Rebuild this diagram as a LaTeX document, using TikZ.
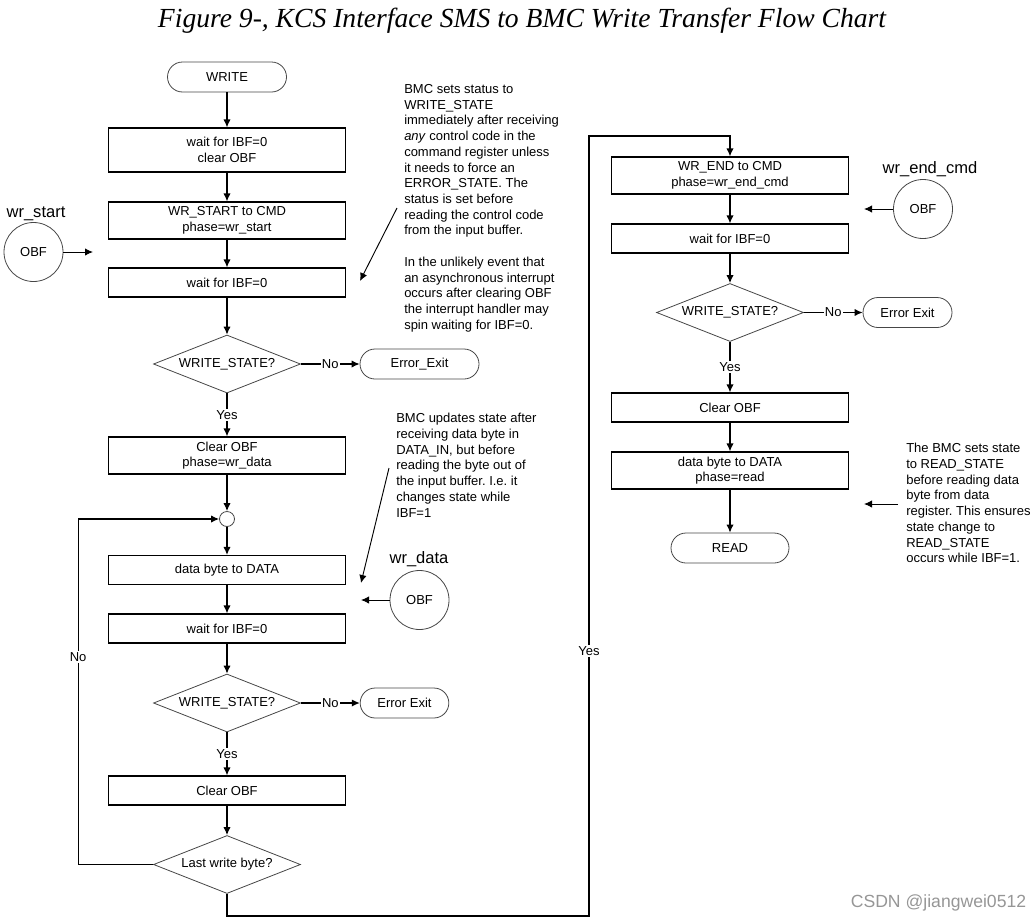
\documentclass[tikz,border=0pt]{standalone}
\usepackage{fontspec}
\setmainfont{Liberation Sans}
\newfontfamily\titlefont{Liberation Serif}
\usetikzlibrary{shapes.geometric,arrows.meta}
\definecolor{edgegray}{RGB}{70,70,70}
\definecolor{markgray}{RGB}{150,150,150}
\frenchspacing

\begin{document}
\begin{tikzpicture}[x=0.75pt,y=-0.75pt,font=\fontsize{9.75}{11.8}\selectfont,box/.style={draw=black,line width=0.9pt,minimum width=177.75pt,inner sep=0pt,align=center},boxS/.style={box,minimum height=21.75pt},boxM/.style={box,minimum height=27.75pt},boxL/.style={box,minimum height=33pt},term/.style={draw=edgegray,line width=0.6pt,rounded corners=11.25pt,minimum height=22.5pt,inner sep=0pt},decide/.style={diamond,aspect=2.53,draw=edgegray,line width=0.6pt,minimum width=110.25pt,minimum height=43.5pt,inner sep=0pt},flag/.style={circle,draw=edgegray,line width=0.6pt,minimum size=44.25pt,inner sep=0pt},flagname/.style={anchor=base,font=\fontsize{12.4}{14}\selectfont},note/.style={anchor=north west,align=left,inner sep=0pt},lbl/.style={fill=white,inner sep=1pt},arr/.style={line width=0.9pt,-{Latex[length=6pt,width=5.5pt]}},arrT/.style={arr,line width=0.7pt}]
\useasboundingbox (0,0) rectangle (1035,921);
\def\xa{227}
\def\xb{730}

\node[anchor=base,font=\titlefont\itshape\fontsize{20.7}{24}\selectfont] (title) at (522,27) {Figure 9-, KCS Interface SMS to BMC Write Transfer Flow Chart};

% left column
\node[term,minimum width=89.25pt] (write) at (\xa,77) {WRITE};
\node[boxL] (waitA) at (\xa,150) {wait for IBF=0\\clear OBF};
\node[boxM] (start) at (\xa,220.5) {WR\_START to CMD\\phase=wr\_start};
\node[boxS] (waitB) at (\xa,282.5) {wait for IBF=0};
\node[decide] (stateA) at (\xa,364) {WRITE\_STATE?};
\node[term,minimum width=89.25pt] (errA) at (419.5,364) {Error\_Exit};
\node[boxM] (clearA) at (\xa,455.5) {Clear OBF\\phase=wr\_data};
\node[circle,draw=edgegray,line width=0.6pt,minimum size=11.25pt,inner sep=0pt] (join) at (\xa,519) {};
\node[boxS] (data) at (\xa,570) {data byte to DATA};
\node[boxS] (waitC) at (\xa,628.5) {wait for IBF=0};
\node[decide] (stateB) at (\xa,703) {WRITE\_STATE?};
\node[term,minimum width=66.5pt] (errB) at (404.5,703) {Error Exit};
\node[boxS] (clearB) at (\xa,790.5) {Clear OBF};
\node[decide] (last) at (\xa,864.5) {Last write byte?};

% right column
\node[boxM] (endcmd) at (\xb,175.5) {WR\_END to CMD\\phase=wr\_end\_cmd};
\node[boxS] (waitD) at (\xb,238.5) {wait for IBF=0};
\node[decide] (stateC) at (\xb,312.5) {WRITE\_STATE?};
\node[term,minimum width=66.75pt] (errC) at (907.5,312.5) {Error Exit};
\node[boxS] (clearC) at (\xb,407.5) {Clear OBF};
\node[boxM] (dataR) at (\xb,470.5) {data byte to DATA\\phase=read};
\node[term,minimum width=88.5pt] (read) at (\xb,548) {READ};

% OBF flags
\node[flag] (obfA) at (33.5,252) {OBF};
\node[flagname] (nameA) at (36,217) {wr\_start};
\node[flag] (obfB) at (419.5,600) {OBF};
\node[flagname] (nameB) at (419,563) {wr\_data};
\node[flag] (obfC) at (923,209) {OBF};
\node[flagname] (nameC) at (930,173) {wr\_end\_cmd};
\coordinate (pA) at (93,252);
\coordinate (pB) at (361,600);
\coordinate (pC) at (864,209);
\draw[arrT] (obfA) -- (pA);
\draw[arrT] (obfB) -- (pB);
\draw[arrT] (obfC) -- (pC);

% notes
\node[note] (noteA) at (404,84) {BMC sets status to\\WRITE\_STATE\\immediately after receiving\\\textit{any} control code in the\\command register unless\\it needs to force an\\ERROR\_STATE. The\\status is set before\\reading the control code\\from the input buffer.\\[11.8pt]In the unlikely event that\\an asynchronous interrupt\\occurs after clearing OBF\\the interrupt handler may\\spin waiting for IBF=0.};
\node[note] (noteB) at (396,413) {BMC updates state after\\receiving data byte in\\DATA\_IN, but before\\reading the byte out of\\the input buffer. I.e. it\\changes state while\\IBF=1};
\node[note] (noteC) at (906,443) {The BMC sets state\\to READ\_STATE\\before reading data\\byte from data\\register. This ensures\\state change to\\READ\_STATE\\occurs while IBF=1.};
\coordinate (nA0) at (397,208);
\coordinate (nA1) at (360,281);
\coordinate (nB0) at (389,468);
\coordinate (nB1) at (361,583);
\coordinate (nC0) at (898,504);
\coordinate (nC1) at (864,504);
\draw[arrT] (nA0) -- (nA1);
\draw[arrT] (nB0) -- (nB1);
\draw[arrT] (nC0) -- (nC1);

% flow
\draw[arr] (write) -- (waitA);
\draw[arr] (waitA) -- (start);
\draw[arr] (start) -- (waitB);
\draw[arr] (waitB) -- (stateA);
\draw[arr] (stateA) -- node[lbl]{No} (errA);
\draw[arr] (stateA) -- node[lbl]{Yes} (clearA);
\draw[arr] (clearA) -- (join);
\draw[arr] (join) -- (data);
\draw[arr] (data) -- (waitC);
\draw[arr] (waitC) -- (stateB);
\draw[arr] (stateB) -- node[lbl]{No} (errB);
\draw[arr] (stateB) -- node[lbl]{Yes} (clearB);
\draw[arr] (clearB) -- (last);
\draw[arr] (last.west) -- ++(-75,0) |- node[lbl,pos=0.3]{No} (join.west);
\coordinate (yb) at (589,916);
\coordinate (yt) at (589,136);
\draw[arr] (last.south) |- (yb) -- node[lbl,pos=0.34]{Yes} (yt) -| (endcmd.north);
\draw[arr] (endcmd) -- (waitD);
\draw[arr] (waitD) -- (stateC);
\draw[arr] (stateC) -- node[lbl]{No} (errC);
\draw[arr] (stateC) -- node[lbl]{Yes} (clearC);
\draw[arr] (clearC) -- (dataR);
\draw[arr] (dataR) -- (read);

\node[text=markgray,font=\fontsize{13.2}{15}\selectfont] (mark) at (938.5,903) {CSDN @jiangwei0512};
\end{tikzpicture}
\end{document}
